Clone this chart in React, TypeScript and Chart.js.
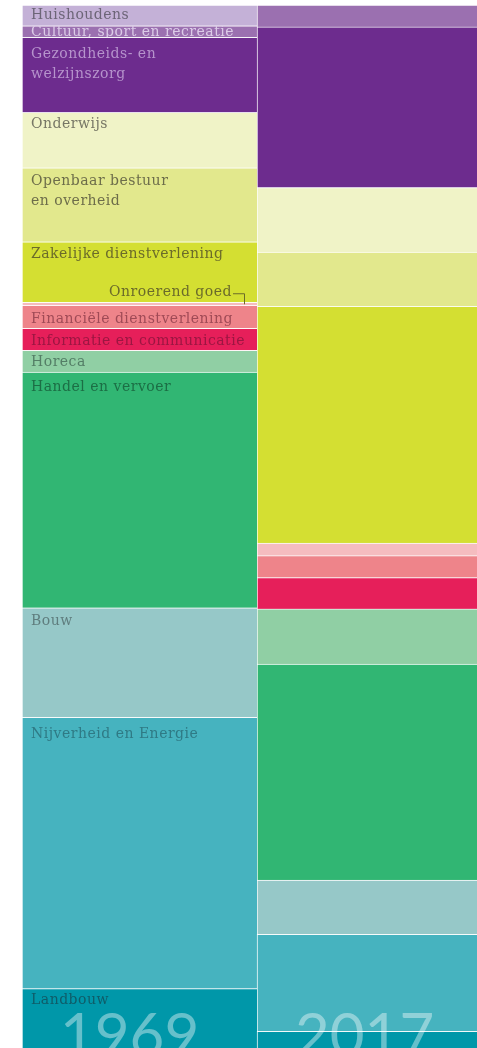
import React, { useEffect, useRef } from "react";
import { Chart, registerables } from "chart.js";

Chart.register(...registerables);

// ---- data ----
const years = ["1969", "2017"];
const categories = [
  "Landbouw",
  "Nijverheid en Energie",
  "Bouw",
  "Handel en vervoer",
  "Horeca",
  "Informatie en communicatie",
  "Financiële dienstverlening",
  "Onroerend goed",
  "Zakelijke dienstverlening",
  "Openbaar bestuur en overheid",
  "Onderwijs",
  "Gezondheids- en welzijnszorg",
  "Cultuur, sport en recreatie",
  "Huishoudens",
];
const share1969 = [5.7, 26.0, 10.5, 22.6, 2.1, 2.1, 2.2, 0.3, 5.8, 7.1, 5.3, 7.2, 1.1, 2.0];
const share2017 = [1.6, 9.3, 5.2, 20.7, 5.3, 3.0, 2.1, 1.2, 22.7, 5.2, 6.2, 15.4, 2.1, 0];
const labelLines = [
  ["Landbouw"],
  ["Nijverheid en Energie"],
  ["Bouw"],
  ["Handel en vervoer"],
  ["Horeca"],
  ["Informatie en communicatie"],
  ["Financiële dienstverlening"],
  ["Onroerend goed"],
  ["Zakelijke dienstverlening"],
  ["Openbaar bestuur", "en overheid"],
  ["Onderwijs"],
  ["Gezondheids- en", "welzijnszorg"],
  ["Cultuur, sport en recreatie"],
  ["Huishoudens"],
];

// ---- styles ----
const barColors = [
  "#0097a9", "#46b3bf", "#96c8c8", "#31b673", "#90cfa4", "#e61f5a", "#ee848a",
  "#f5bcbf", "#d4df32", "#e2e88d", "#f0f3c7", "#6d2c8e", "#9b70b0", "#c4b1d7",
];
const textColors = [
  "#0f5c68", "#2f7a85", "#5f7d7e", "#1c6e45", "#547e66", "#9c1642", "#a04a56",
  "#6b6b2a", "#6b6b2a", "#6d6d4a", "#777766", "#b693cc", "#dccbe8", "#6c6577",
];
const labelOffsets = [12, 17, 14, 15, 12, 13, 14, -10, 13, 14, 12, 17, 6, 10];
const LABEL_FONT = "14px 'DejaVu Serif'";
const LINE_HEIGHT = 20;

const labelPlugin = {
  id: "segLabels",
  afterDatasetsDraw(chart: any) {
    const ctx = chart.ctx;
    ctx.save();
    ctx.font = LABEL_FONT;
    ctx.letterSpacing = "0.5px";
    ctx.textBaseline = "middle";
    chart.data.datasets.forEach((_ds: any, i: number) => {
      const el = chart.getDatasetMeta(i).data[0];
      if (!el) return;
      const p = el.getProps(["x", "y", "base", "width"], true);
      const left = p.x - p.width / 2;
      const right = p.x + p.width / 2;
      const top = Math.min(p.y, p.base);
      const bottom = Math.max(p.y, p.base);
      ctx.fillStyle = textColors[i];
      if (i === 7) {
        // Onroerend goed: right aligned with bracket
        const ty = top + labelOffsets[i];
        ctx.textAlign = "right";
        ctx.fillText(labelLines[i][0], right - 25, ty);
        ctx.strokeStyle = textColors[i];
        ctx.lineWidth = 1;
        ctx.beginPath();
        ctx.moveTo(right - 24, ty + 1.5);
        ctx.lineTo(right - 12.5, ty + 1.5);
        ctx.lineTo(right - 12.5, top + 2);
        ctx.stroke();
        return;
      }
      ctx.textAlign = "left";
      ctx.save();
      if (i === 12) {
        ctx.beginPath();
        ctx.rect(left, top, p.width, bottom - top);
        ctx.clip();
      }
      labelLines[i].forEach((line, k) => {
        ctx.fillText(line, left + 9, top + labelOffsets[i] + k * LINE_HEIGHT);
      });
      ctx.restore();
    });

    // year labels
    const meta0 = chart.getDatasetMeta(0);
    ctx.font = "60px Lato";
    ctx.letterSpacing = "0px";
    ctx.textAlign = "left";
    ctx.textBaseline = "alphabetic";
    ctx.fillStyle = "rgba(255,255,255,0.4)";
    years.forEach((yr, j) => {
      const el = meta0.data[j];
      if (!el) return;
      const p = el.getProps(["x", "width"], true);
      ctx.fillText(yr, p.x - p.width / 2 + 38, chart.chartArea.bottom + 8);
    });
    ctx.restore();
  },
};

export default function App() {
  const ref = useRef<HTMLCanvasElement | null>(null);
  useEffect(() => {
    if (!ref.current) return;
    const chart = new Chart(ref.current, {
      type: "bar",
      data: {
        labels: years,
        datasets: categories.map((c, i) => ({
          label: c,
          data: [share1969[i], share2017[i]],
          backgroundColor: barColors[i],
          borderColor: "rgba(255,255,255,0.6)",
          borderWidth: { top: 1, left: 1, right: 0, bottom: 0 },
          borderSkipped: false,
          categoryPercentage: 1,
          barPercentage: 1,
        })),
      },
      options: {
        responsive: false,
        maintainAspectRatio: false,
        animation: false,
        events: [],
        layout: { padding: { left: 22, top: 5, right: 8, bottom: 0 } },
        plugins: { legend: { display: false }, tooltip: { enabled: false } },
        scales: {
          x: { stacked: true, display: false },
          y: { stacked: true, display: false, min: 0, max: 100 },
        },
      },
      plugins: [labelPlugin],
    });
    return () => chart.destroy();
  }, []);
  return (
    <div
      style={{
        position: "absolute",
        left: 0,
        top: 0,
        width: 477,
        height: 1048,
        overflow: "hidden",
        background: "#fff",
      }}
    >
      <canvas ref={ref} width={500} height={1048} style={{ width: 500, height: 1048, display: "block" }} />
    </div>
  );
}
